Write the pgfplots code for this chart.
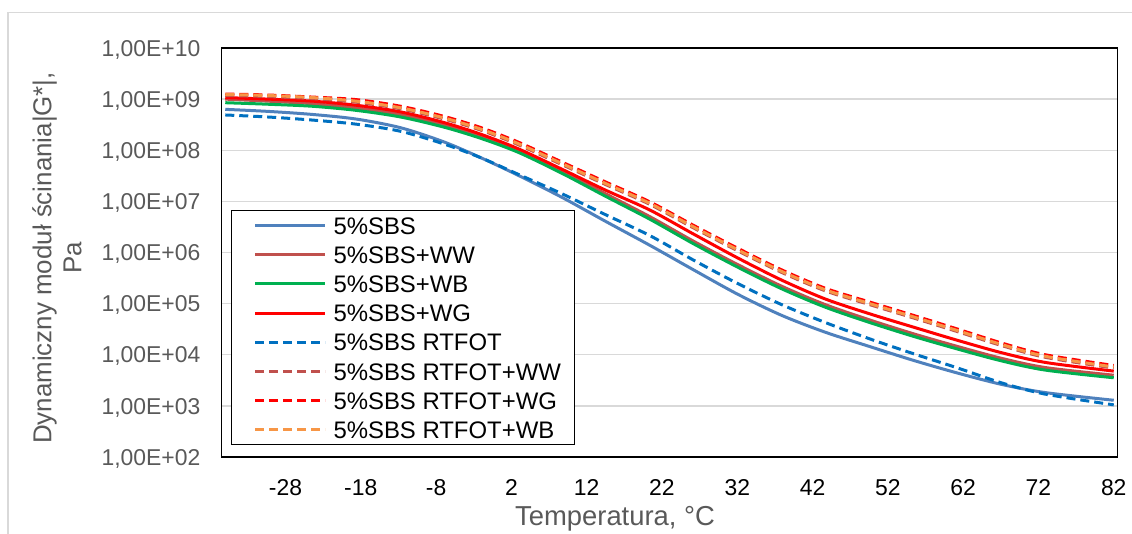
\documentclass[border=0pt]{standalone}
\usepackage{fontspec}
\setmainfont{Liberation Sans}
\usepackage{pgfplots}
\usepackage{pgfplotstable}
\pgfplotsset{compat=1.18}
\definecolor{cSBS}{HTML}{4F81BD}
\definecolor{cWW}{HTML}{C0504D}
\definecolor{cWB}{HTML}{00B050}
\definecolor{cWG}{HTML}{FF0000}
\definecolor{cRT}{HTML}{0070C0}
\definecolor{cOR}{HTML}{F79646}
\definecolor{cGrid}{HTML}{D9D9D9}
\definecolor{cTxt}{HTML}{595959}
\pgfplotstableread{
T     S        W        B        G        R        DW       DG       D
-36   6.310e8  1.000e9  8.511e8  1.072e9  4.898e8  1.175e9  1.259e9  1.230e9
-30.3 5.754e8  9.120e8  7.943e8  1.000e9  4.467e8  1.122e9  1.202e9  1.175e9
-24.4 5.012e8  8.128e8  7.244e8  9.120e8  3.890e8  1.023e9  1.096e9  1.072e9
-18.6 4.074e8  6.761e8  6.026e8  7.586e8  3.236e8  8.710e8  9.772e8  9.120e8
-12.7 2.754e8  5.012e8  4.467e8  5.623e8  2.344e8  6.457e8  7.244e8  6.761e8
-6.9  1.445e8  3.162e8  2.818e8  3.467e8  1.318e8  4.074e8  4.571e8  4.266e8
-2.0  7.079e7  1.905e8  1.698e8  2.042e8  7.079e7  2.455e8  2.754e8  2.570e8
2.9   3.236e7  1.023e8  9.120e7  1.072e8  3.388e7  1.288e8  1.445e8  1.349e8
8.7   1.202e7  3.981e7  3.548e7  4.266e7  1.413e7  5.248e7  5.888e7  5.495e7
14.5  4.074e6  1.413e7  1.259e7  1.660e7  5.495e6  2.138e7  2.399e7  2.239e7
20.4  1.380e6  5.012e6  4.467e6  6.761e6  2.138e6  8.710e6  9.772e6  9.120e6
26.2  4.571e5  1.660e6  1.479e6  2.291e6  7.079e5  3.020e6  3.388e6  3.162e6
32.1  1.514e5  5.754e5  5.129e5  7.762e5  2.455e5  1.072e6  1.202e6  1.122e6
37.9  5.888e4  2.188e5  1.950e5  2.884e5  9.550e4  4.074e5  4.571e5  4.266e5
43.7  2.754e4  9.550e4  8.511e4  1.230e5  4.266e4  1.778e5  1.995e5  1.862e5
49.6  1.445e4  4.786e4  4.266e4  6.310e4  2.042e4  9.550e4  1.072e5  1.000e5
55.4  7.762e3  2.570e4  2.291e4  3.467e4  1.047e4  5.248e4  5.888e4  5.495e4
61.3  4.365e3  1.445e4  1.288e4  1.905e4  5.495e3  2.818e4  3.162e4  2.951e4
67.1  2.630e3  8.511e3  7.586e3  1.096e4  2.818e3  1.514e4  1.698e4  1.585e4
72.9  1.820e3  5.623e3  5.012e3  7.079e3  1.698e3  8.913e3  1.000e4  9.333e3
82    1.288e3  3.981e3  3.548e3  4.786e3  1.047e3  5.495e3  6.166e3  5.754e3
}\datatable
\begin{document}
\begin{tikzpicture}
\useasboundingbox (0,0) rectangle (1132bp,534bp);
\draw[cGrid, line width=1.3bp] (8bp,-5bp) -- (8bp,521.3bp) -- (1140bp,521.3bp);
\begin{axis}[
  at={(221.5bp,77bp)}, anchor=south west,
  width=896bp, height=409bp, scale only axis,
  ymode=log, ymin=1e2, ymax=1e10,
  xmin=-36.5, xmax=82.5,
  xtick={-28,-18,-8,2,12,22,32,42,52,62,72,82},
  xticklabels={-28,-18,-8,2,12,22,32,42,52,62,72,82},
  ytick={1e2,1e3,1e4,1e5,1e6,1e7,1e8,1e9,1e10},
  yticklabels={{1,00E+02},{1,00E+03},{1,00E+04},{1,00E+05},{1,00E+06},{1,00E+07},{1,00E+08},{1,00E+09},{1,00E+10}},
  yminorticks=false,
  major tick length=0pt,
  ymajorgrids, grid style={cGrid, line width=1.3bp},
  axis line style={black, line width=1.2bp},
  tick label style={font=\fontsize{23}{27}\selectfont, inner sep=0pt, text height=16.5bp, text depth=0pt},
  xticklabel style={anchor=north, yshift=-21.5bp, black},
  yticklabel style={anchor=east, xshift=-21bp, cTxt},
  xlabel={Temperatura, °C},
  xlabel style={at={(axis description cs:0.4392,-0.1516)}, anchor=center, font=\fontsize{27.5}{31}\selectfont, text=cTxt},
  ylabel={Dynamiczny moduł ścinania|G*|,\\Pa},
  ylabel style={at={(axis description cs:-0.1836,0.4866)}, anchor=center, align=center, font=\fontsize{26}{30}\selectfont, text=cTxt},
  legend image code/.code={\path (-8bp,8.6bp); \draw[#1] (0bp,8.6bp) -- (70bp,8.6bp);},
  legend style={at={(axis description cs:0.0106,0.6027)}, anchor=north west,
    draw=black, line width=1bp, fill=white,
    inner xsep=14bp, inner ysep=6bp, row sep=12bp, column sep=7bp,
    font=\fontsize{24}{28}\selectfont,
    nodes={inner sep=0pt, text height=17.2bp, text depth=0pt},
    cells={anchor=base west}},
  every axis plot/.append style={line width=3bp, smooth, line cap=butt},
]
\addplot[cSBS] table[x=T, y=S] {\datatable};
\addlegendentry{5\%SBS}
\addplot[cWW] table[x=T, y=W] {\datatable};
\addlegendentry{5\%SBS+WW}
\addplot[cWB] table[x=T, y=B] {\datatable};
\addlegendentry{5\%SBS+WB}
\addplot[cWG] table[x=T, y=G] {\datatable};
\addlegendentry{5\%SBS+WG}
\addplot[cRT, dash pattern=on 9bp off 5bp] table[x=T, y=R] {\datatable};
\addlegendentry{5\%SBS RTFOT}
\addplot[cWW, dash pattern=on 9bp off 5bp] table[x=T, y=DW] {\datatable};
\addlegendentry{5\%SBS RTFOT+WW}
\addplot[cWG, dash pattern=on 9bp off 5bp] table[x=T, y=DG] {\datatable};
\addlegendentry{5\%SBS RTFOT+WG}
\addplot[cOR, dash pattern=on 9bp off 5bp] table[x=T, y=D] {\datatable};
\addlegendentry{5\%SBS RTFOT+WB}
\end{axis}
\end{tikzpicture}
\end{document}
